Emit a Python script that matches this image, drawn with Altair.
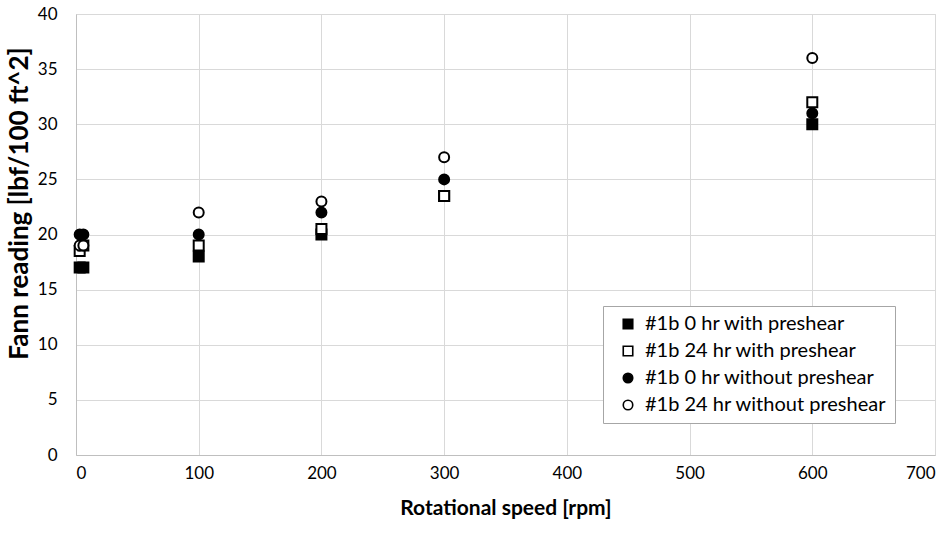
import altair as alt
import pandas as pd

speeds = [3, 6, 100, 200, 300, 600]
series_names = [
    "#1b 0 hr with preshear",
    "#1b 24 hr with preshear",
    "#1b 0 hr without preshear",
    "#1b 24 hr without preshear",
]
s_0hr_pre = [17, 17, 18, 20, 23.5, 30]
s_24hr_pre = [18.5, 19, 19, 20.5, 23.5, 32]
s_0hr_nopre = [20, 20, 20, 22, 25, 31]
s_24hr_nopre = [19, 19, 22, 23, 27, 36]

rows = []
for i, (name, vals) in enumerate(zip(series_names, [s_0hr_pre, s_24hr_pre, s_0hr_nopre, s_24hr_nopre])):
    for sp, v in zip(speeds, vals):
        rows.append({"speed": sp, "reading": v, "series": name, "series_order": i})
df = pd.DataFrame(rows)

FONT = "Lato"

chart = (
    alt.Chart(df)
    .mark_point(filled=True, strokeWidth=2, size=100, opacity=1)
    .encode(
        x=alt.X(
            "speed:Q",
            title="Rotational speed [rpm]",
            scale=alt.Scale(domain=[0, 700], nice=False),
            axis=alt.Axis(values=[0, 100, 200, 300, 400, 500, 600, 700]),
        ),
        y=alt.Y(
            "reading:Q",
            title="Fann reading [lbf/100 ft^2]",
            scale=alt.Scale(domain=[0, 40], nice=False),
            axis=alt.Axis(
                values=[0, 5, 10, 15, 20, 25, 30, 35, 40],
                titleFontSize=26,
                titleX=-44,
                titleY=189,
                titleBaseline="bottom",
                titleAlign="center",
                titleAngle=270,
            ),
        ),
        shape=alt.Shape(
            "series:N",
            scale=alt.Scale(domain=series_names, range=["square", "square", "circle", "circle"]),
            legend=alt.Legend(title=None),
        ),
        fill=alt.Fill(
            "series:N",
            scale=alt.Scale(domain=series_names, range=["black", "white", "black", "white"]),
            legend=alt.Legend(title=None),
        ),
        stroke=alt.Stroke(
            "series:N",
            scale=alt.Scale(domain=series_names, range=["black", "black", "black", "black"]),
            legend=alt.Legend(title=None),
        ),
        order=alt.Order("series_order:Q"),
    )
    .properties(
        width=859,
        height=441,
        autosize=alt.AutoSizeParams(type="none"),
        padding={"left": 76, "top": 14, "right": 15, "bottom": 83},
    )
    .configure_view(stroke="#d9d9d9", strokeWidth=1)
    .configure_axis(
        grid=True,
        gridColor="#d9d9d9",
        gridWidth=1,
        domainColor="#bfbfbf",
        domainWidth=1,
        ticks=False,
        labelFont=FONT,
        labelFontSize=17,
        labelColor="black",
        titleFont=FONT,
        titleFontSize=21,
        titleFontWeight="bold",
        titleColor="black",
    )
    .configure_axisX(labelPadding=10, titlePadding=16)
    .configure_axisY(labelPadding=19)
    .configure_legend(
        orient="none",
        legendX=527,
        legendY=292,
        strokeColor="#a6a6a6",
        fillColor="white",
        padding=8,
        symbolSize=90,
        symbolStrokeWidth=1.6,
        symbolOffset=7,
        labelFont=FONT,
        labelFontSize=20,
        labelColor="black",
        labelLimit=400,
        rowPadding=7,
        labelOffset=7,
        cornerRadius=0,
    )
)

chart.save("out.html", embed_options={"renderer": "svg", "actions": False})
